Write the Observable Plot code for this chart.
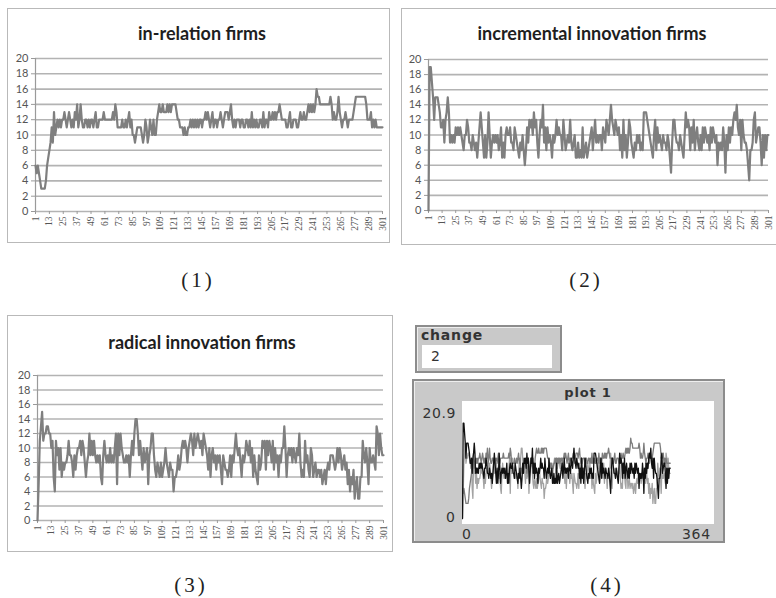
<!DOCTYPE html>
<html>
<head>
<meta charset="utf-8">
<script src="https://cdn.jsdelivr.net/npm/d3@7"></script>
<script src="https://cdn.jsdelivr.net/npm/@observablehq/plot@0.6"></script>
<style>
  html, body { margin: 0; padding: 0; background: #ffffff; }
  #root { position: relative; width: 776px; height: 598px; overflow: hidden; background: #fff; }
  .frame { position: absolute; border: 1.5px solid #b9b9b9; box-sizing: border-box; background: #fff; }
  .title { position: absolute; font-family: Lato, "Open Sans", sans-serif; font-weight: 700; font-size: 18px; color: #1e1e1e; transform: translate(-50%, -50%); white-space: nowrap; }
  .cap { position: absolute; font-family: "Liberation Serif", "DejaVu Serif", serif; font-size: 21px; color: #222; letter-spacing: 3px; transform: translate(-50%, -50%); white-space: nowrap; }
  .nl { font-family: "DejaVu Sans", sans-serif; color: #333; white-space: nowrap; }
</style>
</head>
<body>
<div id="root"></div>
<script>
// ---------------- data ----------------
const panelTitles = ["in-relation firms", "incremental innovation firms", "radical innovation firms"];
const captions = ["(1)", "(2)", "(3)", "(4)"];
const yTicks = [0, 2, 4, 6, 8, 10, 12, 14, 16, 18, 20];
const xTicks = [1, 13, 25, 37, 49, 61, 73, 85, 97, 109, 121, 133, 145, 157, 169, 181, 193, 205, 217, 229, 241, 253, 265, 277, 289, 301];

const inRelation = [
  6,5,6,5,4,3,3,3,3,4,
  6,7,8,9,11,9,13,10,11,12,
  11,12,11,12,12,13,12,11,12,13,
  12,11,12,11,13,12,14,11,12,14,
  12,11,11,12,12,11,12,11,12,12,
  11,12,13,11,11,12,12,12,12,13,
  12,12,12,12,12,12,12,13,12,14,
  13,11,11,11,11,12,11,11,12,11,
  12,13,11,12,10,10,9,10,11,11,
  11,11,10,9,10,12,11,9,10,12,
  11,10,12,10,10,12,13,14,13,13,
  14,13,13,13,14,13,14,13,14,14,
  14,14,13,12,12,11,11,11,10,11,
  10,10,11,11,12,11,12,11,12,11,
  12,11,12,12,11,12,12,13,12,13,
  12,11,12,13,11,12,12,11,12,12,
  13,12,11,12,13,13,13,12,13,14,
  12,11,12,11,12,12,12,11,12,12,
  11,11,12,12,11,12,11,13,11,12,
  11,12,11,11,12,12,11,13,11,12,
  12,11,13,12,12,13,12,13,12,13,
  13,14,13,12,12,12,12,11,11,12,
  13,11,11,12,12,12,11,11,12,13,
  12,12,13,12,12,13,14,13,14,13,
  14,13,14,16,15,15,14,14,14,14,
  14,14,14,14,14,15,14,12,13,12,
  12,13,15,13,12,11,12,12,13,12,
  11,12,12,12,12,13,14,15,15,15,
  15,15,15,15,15,15,14,12,12,12,
  13,11,12,11,12,11,11,11,11,11,11
];

const incremental = [
  0,19,19,17,15,12,15,15,15,14,
  13,11,11,12,9,12,13,15,13,9,
  10,9,10,9,11,10,11,10,11,10,
  9,8,10,10,12,11,9,9,8,10,
  9,8,9,7,9,11,13,11,9,7,
  10,7,9,13,10,7,9,10,9,10,
  9,10,8,9,11,7,9,7,10,11,
  10,10,11,9,9,8,11,10,9,8,
  7,9,8,10,8,6,8,11,9,12,
  11,12,10,13,11,12,9,7,10,12,
  11,14,9,11,8,11,9,10,9,7,
  10,9,10,12,10,11,10,10,8,12,
  10,8,9,10,9,12,9,8,9,10,
  7,7,9,7,8,7,11,7,8,9,
  7,8,9,10,11,8,10,12,9,10,
  9,10,10,8,11,10,9,12,11,10,
  12,14,12,11,10,12,11,10,11,8,
  10,7,12,8,10,7,9,12,11,9,
  8,7,9,8,10,9,10,8,9,8,
  13,13,13,12,11,10,9,8,7,10,
  12,8,11,9,10,9,8,10,9,9,
  8,10,9,7,5,9,12,12,10,9,
  9,8,10,9,8,7,10,13,11,12,
  11,8,11,9,12,8,10,11,9,8,
  10,8,11,9,11,10,9,10,8,11,
  9,11,10,9,10,6,9,8,9,8,
  11,9,5,10,8,11,9,11,10,12,
  13,12,14,11,10,12,8,12,10,9,
  9,8,6,4,8,8,9,12,13,9,
  10,11,11,9,6,10,7,10,8,10,10
];

const radical = [
  0,5,11,13,15,11,12,12,13,13,
  12,12,10,11,6,4,11,9,10,7,
  10,6,8,7,8,8,9,11,9,9,
  8,6,9,7,9,10,10,11,9,11,
  10,8,6,8,9,12,9,11,9,11,
  9,8,9,8,9,6,5,9,11,9,
  8,9,8,10,8,9,8,10,12,5,
  12,9,12,10,9,8,8,9,8,9,
  6,9,11,9,12,14,14,12,9,11,
  9,7,10,8,9,10,5,9,10,12,
  12,9,7,6,8,7,6,8,6,7,
  8,10,8,7,6,8,7,7,4,6,
  6,7,9,7,8,10,11,10,11,10,
  8,10,11,12,11,9,12,10,11,12,
  11,10,11,9,12,11,10,9,7,10,
  6,9,10,8,9,7,9,8,9,7,
  5,9,8,7,7,6,7,9,6,9,
  8,10,12,10,9,10,8,6,9,8,
  9,11,10,9,11,8,10,6,9,7,
  6,5,9,7,8,11,10,11,7,11,
  9,11,10,8,11,7,10,8,9,6,
  9,8,10,10,13,10,6,9,10,9,
  10,8,10,9,8,10,9,12,8,6,
  7,6,11,8,9,7,6,10,9,6,
  7,8,6,7,7,6,7,5,6,7,
  5,7,8,7,9,9,9,8,7,8,
  10,8,10,9,7,8,9,7,8,5,
  7,4,6,5,7,3,5,6,3,3,
  6,6,11,9,8,10,8,5,10,8,
  8,9,8,7,13,12,9,12,10,9,9
];

const monitorLabel = "change";
const monitorValue = "2";
const netlogoTitle = "plot 1";
const netlogoYLabels = ["20.9", "0"];
const netlogoXLabels = ["0", "364"];
const netlogoYMax = 20.9;
const netlogoXMax = 364;

// ---------------- layout ----------------
const root = document.getElementById("root");
function add(el, cls, style, text) {
  const d = document.createElement(el);
  if (cls) d.className = cls;
  Object.assign(d.style, style);
  if (text != null) d.textContent = text;
  root.appendChild(d);
  return d;
}

function excelPanel(series, title, box, plotArea, titlePos) {
  add("div", "frame", {left: box.x0 + "px", top: box.y0 + "px", width: (box.x1 - box.x0) + "px", height: (box.y1 - box.y0) + "px"});
  const w = box.x1 - box.x0, h = box.y1 - box.y0;
  const chart = Plot.plot({
    width: w,
    height: h,
    marginLeft: plotArea.x0 - box.x0,
    marginRight: box.x1 - plotArea.x1,
    marginTop: plotArea.y0 - box.y0,
    marginBottom: box.y1 - plotArea.y1,
    style: {background: "transparent", fontFamily: "Lato, 'Open Sans', sans-serif", color: "#555"},
    x: {type: "linear", domain: [1, 301]},
    y: {domain: [0, 20]},
    marks: [
      Plot.gridY(yTicks, {stroke: "#b3b3b3", strokeOpacity: 1, strokeWidth: 1.6}),
      Plot.ruleX([1], {stroke: "#9a9a9a", strokeWidth: 1.2}),
      Plot.axisY(yTicks, {tickSize: 4, tickPadding: 3, fontSize: 11, stroke: "#9a9a9a", fill: "#555"}),
      Plot.axisX(xTicks, {tickRotate: -90, tickSize: 3, tickPadding: 2, fontSize: 9.5, stroke: "#9a9a9a", fill: "#555", fontFamily: "'Liberation Serif', serif"}),
      Plot.lineY(series, {x: (d, i) => i + 1, y: d => d, stroke: "#7f7f7f", strokeWidth: 2.2, strokeLinejoin: "round"})
    ]
  });
  chart.style.position = "absolute";
  chart.style.left = box.x0 + "px";
  chart.style.top = box.y0 + "px";
  root.appendChild(chart);
  add("div", "title", {left: titlePos[0] + "px", top: titlePos[1] + "px"}, title);
}

excelPanel(inRelation, panelTitles[0], {x0: 7, y0: 8, x1: 390, y1: 243}, {x0: 35, x1: 382, y0: 58, y1: 211}, [202, 33]);
excelPanel(incremental, panelTitles[1], {x0: 401, y0: 8, x1: 778, y1: 245}, {x0: 428, x1: 768, y0: 59, y1: 210}, [592, 33]);
excelPanel(radical, panelTitles[2], {x0: 7, y0: 315, x1: 393, y1: 552}, {x0: 37, x1: 383, y0: 375, y1: 520}, [202, 342]);

// captions
add("div", "cap", {left: "198px", top: "280px"}, captions[0]);
add("div", "cap", {left: "586px", top: "280px"}, captions[1]);
add("div", "cap", {left: "191px", top: "585px"}, captions[2]);
add("div", "cap", {left: "607px", top: "585px"}, captions[3]);

// ---------------- NetLogo panel ----------------
add("div", "", {position: "absolute", left: "415px", top: "325px", width: "147px", height: "48px", background: "#c9c9c9", border: "2px solid #8c8c8c", boxSizing: "border-box", boxShadow: "inset 1px 1px 0 #eee"});
add("div", "nl", {position: "absolute", left: "421px", top: "327px", fontSize: "14px", letterSpacing: "0.8px", fontWeight: "600"}, monitorLabel);
add("div", "", {position: "absolute", left: "422px", top: "345px", width: "130px", height: "23px", background: "#fff"});
add("div", "nl", {position: "absolute", left: "431px", top: "348px", fontSize: "14px"}, monitorValue);

add("div", "", {position: "absolute", left: "412px", top: "379px", width: "313px", height: "164px", background: "#c9c9c9", border: "2px solid #8c8c8c", boxSizing: "border-box", boxShadow: "inset 1px 1px 0 #eee"});
add("div", "nl", {position: "absolute", left: "588px", top: "392px", fontSize: "13px", fontWeight: "700", letterSpacing: "0.8px", transform: "translate(-50%,-50%)"}, netlogoTitle);
add("div", "nl", {position: "absolute", right: (776 - 456) + "px", top: "405px", fontSize: "14px", letterSpacing: "0.6px"}, netlogoYLabels[0]);
add("div", "nl", {position: "absolute", right: (776 - 455) + "px", top: "509px", fontSize: "14px"}, netlogoYLabels[1]);
add("div", "nl", {position: "absolute", left: "462px", top: "526px", fontSize: "14px"}, netlogoXLabels[0]);
add("div", "nl", {position: "absolute", right: (776 - 711) + "px", top: "526px", fontSize: "14px", letterSpacing: "0.8px"}, netlogoXLabels[1]);

const nl = Plot.plot({
  width: 252,
  height: 123,
  marginLeft: 0,
  marginRight: 0,
  marginTop: 12,
  marginBottom: 6,
  style: {background: "#fff"},
  x: {type: "linear", domain: [0, netlogoXMax], axis: null},
  y: {domain: [0, netlogoYMax], axis: null},
  marks: [
    Plot.lineY(radical, {x: (d, i) => i, y: d => d, stroke: "#a3a3a3", strokeWidth: 1.3}),
    Plot.lineY(inRelation, {x: (d, i) => i, y: d => d, stroke: "#7c7c7c", strokeWidth: 1.3}),
    Plot.lineY(incremental, {x: (d, i) => i, y: d => d, stroke: "#111", strokeWidth: 1.3})
  ]
});
nl.style.position = "absolute";
nl.style.left = "462px";
nl.style.top = "401px";
root.appendChild(nl);
</script>
</body>
</html>
